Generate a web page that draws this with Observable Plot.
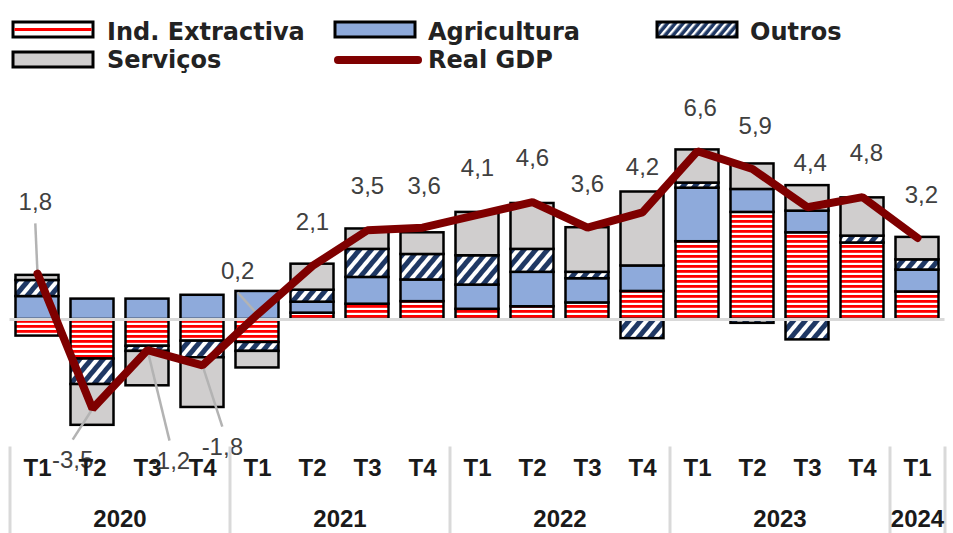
<!DOCTYPE html>
<html>
<head>
<meta charset="utf-8">
<script src="https://cdn.jsdelivr.net/npm/d3@7"></script>
<script src="https://cdn.jsdelivr.net/npm/@observablehq/plot@0.6"></script>
<style>
  html, body { margin: 0; padding: 0; background: #fff; }
  #legend, #chart { line-height: 0; }
  #legend svg, #chart svg { display: block; }
</style>
</head>
<body>
<div id="legend"></div>
<div id="chart"></div>
<script>
// ---------- data ----------
const quarters = ["T1","T2","T3","T4","T1","T2","T3","T4","T1","T2","T3","T4","T1","T2","T3","T4","T1"];
const years    = ["2020","2020","2020","2020","2021","2021","2021","2021","2022","2022","2022","2022","2023","2023","2023","2023","2024"];
const seriesNames = ["Ind. Extractiva", "Agricultura", "Outros", "Serviços"];
const indExtractiva = [-0.65, -1.55, -1.05, -0.85, -0.9, 0.25, 0.6, 0.7, 0.4, 0.5, 0.65, 1.1, 3.05, 4.2, 3.4, 3.0, 1.08];
const agricultura   = [0.9, 0.8, 0.8, 0.95, 1.1, 0.43, 1.05, 0.85, 0.95, 1.35, 0.95, 1.0, 2.1, 0.9, 0.85, 0.0, 0.86];
const outros        = [0.63, -1.0, -0.2, -0.65, -0.35, 0.47, 1.1, 1.0, 1.15, 0.9, 0.25, -0.75, 0.2, -0.15, -0.8, 0.27, 0.4];
const servicos      = [0.2, -1.6, -1.35, -1.95, -0.65, 1.02, 0.8, 0.85, 1.7, 1.8, 1.75, 2.9, 1.3, 1.0, 1.0, 1.5, 0.88];
const realGDP       = [1.8, -3.5, -1.2, -1.8, 0.2, 2.1, 3.5, 3.6, 4.1, 4.6, 3.6, 4.2, 6.6, 5.9, 4.4, 4.8, 3.2];

// ---------- label layout (data units) ----------
const labelDx = [-0.04, -0.36, 0.4, 0.36, -0.36, 0, 0, 0.03, 0, 0, 0, 0, 0.05, 0.05, 0.05, 0.07, 0.07];
const labelY  = [4.59, -5.53, -5.57, -5.02, 1.88, 3.8, 5.22, 5.22, 5.92, 6.31, 5.29, 5.96, 8.27, 7.57, 6.12, 6.51, 4.86];
const leader  = [1, 1, 1, 1, 1, 0, 0, 0, 0, 0, 0, 0, 0, 0, 0, 0, 0];

// ---------- styles ----------
const FONT = "'Liberation Sans', Arial, sans-serif";
const colors = ["url(#pInd)", "#8eaadb", "url(#pOut)", "#d0cece"];
const gdpColor = "#7f0000";

// ---------- legend (with pattern defs) ----------
const lg = d3.select("#legend").append("svg").attr("width", 953).attr("height", 80);
const defs = lg.append("defs");
const pInd = defs.append("pattern").attr("id", "pInd").attr("patternUnits", "userSpaceOnUse")
  .attr("width", 10).attr("height", 5);
pInd.append("rect").attr("width", 10).attr("height", 5).attr("fill", "#ffffff");
pInd.append("rect").attr("width", 10).attr("height", 2.8).attr("fill", "#ff0000");
const pOut = defs.append("pattern").attr("id", "pOut").attr("patternUnits", "userSpaceOnUse")
  .attr("width", 9).attr("height", 9).attr("patternTransform", "rotate(40)");
pOut.append("rect").attr("width", 9).attr("height", 9).attr("fill", "#1f3864");
pOut.append("rect").attr("width", 4).attr("height", 9).attr("fill", "#ffffff");
const pOutS = defs.append("pattern").attr("id", "pOutS").attr("patternUnits", "userSpaceOnUse")
  .attr("width", 6).attr("height", 6).attr("patternTransform", "rotate(40)");
pOutS.append("rect").attr("width", 6).attr("height", 6).attr("fill", "#1f3864");
pOutS.append("rect").attr("width", 2.4).attr("height", 6).attr("fill", "#ffffff");

const legendItems = [
  {name: seriesNames[0], sx: 13, sy: 22, tx: 107, ty: 40, kind: "ind"},
  {name: seriesNames[1], sx: 335, sy: 22, tx: 428, ty: 40, kind: "fill", fill: colors[1]},
  {name: seriesNames[2], sx: 657, sy: 22, tx: 750, ty: 40, kind: "fill", fill: "url(#pOutS)"},
  {name: seriesNames[3], sx: 13, sy: 52, tx: 107, ty: 68, kind: "fill", fill: colors[3]},
  {name: "Real GDP", sx: 334, sy: 60, tx: 428, ty: 68, kind: "line"}
];
for (const it of legendItems) {
  if (it.kind === "line") {
    lg.append("line").attr("x1", it.sx + 4).attr("x2", it.sx + 84).attr("y1", it.sy).attr("y2", it.sy)
      .attr("stroke", gdpColor).attr("stroke-width", 8).attr("stroke-linecap", "round");
  } else {
    lg.append("rect").attr("x", it.sx).attr("y", it.sy).attr("width", 80).attr("height", 15)
      .attr("fill", it.kind === "ind" ? "#ffffff" : it.fill).attr("stroke", "#000").attr("stroke-width", 3);
    if (it.kind === "ind") {
      lg.append("rect").attr("x", it.sx + 1.5).attr("y", it.sy + 6).attr("width", 77).attr("height", 3).attr("fill", "#ff0000");
    }
  }
  lg.append("text").attr("x", it.tx).attr("y", it.ty).text(it.name)
    .attr("font-family", "'DejaVu Sans', sans-serif").attr("font-weight", "bold")
    .attr("font-size", 24).attr("fill", "#222");
}

// ---------- chart ----------
const seriesValues = [indExtractiva, agricultura, outros, servicos];
const rows = [];
seriesNames.forEach((s, si) => seriesValues[si].forEach((v, i) => rows.push({i, series: s, value: v})));
const idx = d3.range(realGDP.length);
const yearNames = Array.from(new Set(years));
const yearRows = yearNames.map(y => ({year: y, c: d3.mean(idx.filter(i => years[i] === y), i => i + 0.5)}));
const bounds = [0, ...yearNames.map(y => d3.max(idx.filter(i => years[i] === y)) + 1)];

const chart = Plot.plot({
  width: 953,
  height: 453,
  marginLeft: 9.5,
  marginRight: 8.5,
  marginTop: 60.5,
  marginBottom: 86.5,
  style: {fontFamily: FONT, background: "#fff", overflow: "visible"},
  x: {domain: [0, quarters.length], axis: null},
  y: {domain: [-5, 7], axis: null},
  color: {domain: seriesNames, range: colors},
  marks: [
    Plot.rectY(rows, Plot.stackY({
      x1: d => d.i, x2: d => d.i + 1, y: "value", z: "series", fill: "series",
      order: seriesNames, stroke: "#000", strokeWidth: 2.5, insetLeft: 6, insetRight: 6
    })),
    Plot.ruleY([0], {stroke: "#d9d9d9", strokeWidth: 3}),
    Plot.link(idx.filter(i => leader[i]), {
      x1: i => i + 0.5 + labelDx[i],
      y1: i => labelY[i] + (realGDP[i] < labelY[i] ? -0.82 : 0.82),
      x2: i => i + 0.5, y2: i => realGDP[i],
      stroke: "#b3b3b3", strokeWidth: 2.5
    }),
    Plot.line(idx, {x: i => i + 0.5, y: i => realGDP[i], stroke: gdpColor, strokeWidth: 8, strokeLinejoin: "miter"}),
    Plot.text(idx, {
      x: i => i + 0.5 + labelDx[i], y: i => labelY[i],
      text: i => realGDP[i].toFixed(1).replace(".", ","),
      fontSize: 24, fill: "#404040"
    }),
    Plot.axisX(bounds, {tickSize: 87, tickFormat: () => "", stroke: "#d9d9d9", strokeWidth: 3, label: null}),
    Plot.axisX(idx.map(i => i + 0.5), {
      tickSize: 0, tickPadding: 12, label: null,
      tickFormat: d => quarters[Math.round(d - 0.5)],
      fontSize: 24, fontWeight: "bold", fill: "#1a1a1a"
    }),
    Plot.text(yearRows, {x: "c", text: "year", frameAnchor: "bottom", dy: 80, fontSize: 24, fontWeight: "bold", fill: "#1a1a1a"})
  ]
});
document.getElementById("chart").appendChild(chart);
</script>
</body>
</html>
